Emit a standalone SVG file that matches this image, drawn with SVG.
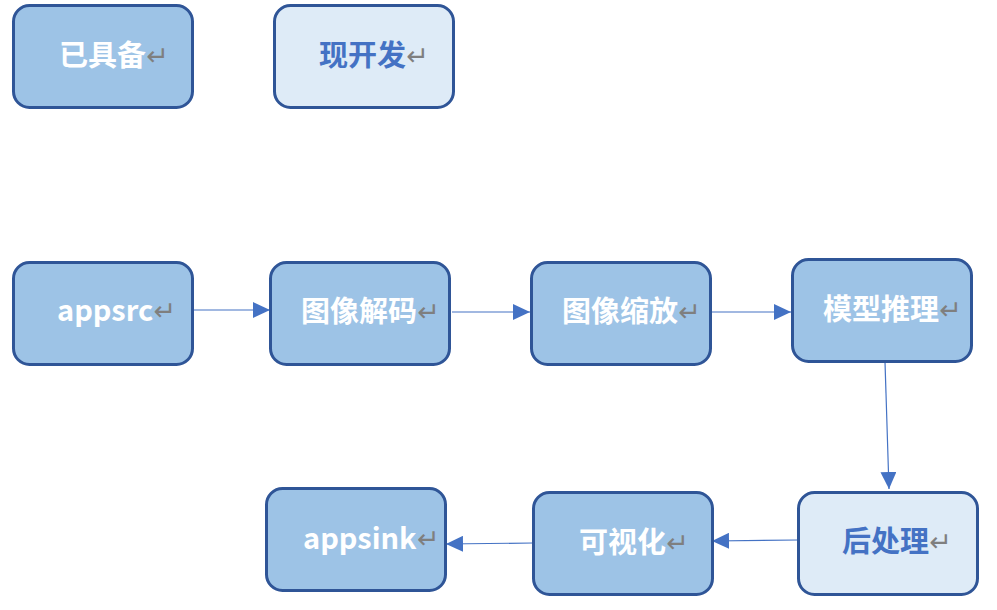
<svg xmlns="http://www.w3.org/2000/svg" width="997" height="610" viewBox="0 0 997 610">
<style>
.box{stroke:#2F5597;stroke-width:3}
.dark{fill:#9DC3E6}
.light{fill:#DEEBF7}
.t{font-family:"Noto Sans CJK SC","Liberation Sans",sans-serif;font-weight:bold;font-size:29px}
.w{fill:#FFFFFF}
.b{fill:#4472C4}
.rm{fill:#7F7F7F;font-family:"DejaVu Sans",sans-serif;font-weight:normal;font-size:27px}
.c{stroke:#4472C4;stroke-width:1.2;fill:none}
</style>
<defs>
<marker id="ah" viewBox="0 0 17 16" refX="17" refY="8" markerWidth="17" markerHeight="16" markerUnits="userSpaceOnUse" orient="auto">
<path d="M0,0 L17,8 L0,16 Z" fill="#4472C4"/>
</marker>
</defs>
<rect width="997" height="610" fill="#FFFFFF"/>
<g id="connectors">
<line class="c" x1="193" y1="310" x2="270" y2="310" marker-end="url(#ah)"/>
<line class="c" x1="452" y1="312" x2="530" y2="312" marker-end="url(#ah)"/>
<line class="c" x1="712" y1="312" x2="791" y2="312" marker-end="url(#ah)"/>
<line class="c" x1="885" y1="362" x2="889" y2="489" marker-end="url(#ah)"/>
<line class="c" x1="798" y1="540" x2="712" y2="541" marker-end="url(#ah)"/>
<line class="c" x1="533" y1="543" x2="446" y2="544" marker-end="url(#ah)"/>
</g>
<g id="n_ready">
<rect class="box dark" x="13.5" y="5.5" width="179" height="102" rx="16"/>
<text class="t w" x="59" y="66">已具备<tspan class="rm" dy="-1">↵</tspan></text>
</g>
<g id="n_dev">
<rect class="box light" x="274.5" y="5.5" width="179" height="102" rx="16"/>
<text class="t b" x="319" y="66">现开发<tspan class="rm" dy="-1">↵</tspan></text>
</g>
<g id="n_appsrc">
<rect class="box dark" x="13.5" y="262.5" width="179" height="102" rx="16"/>
<text class="t w" x="57" y="321">appsrc<tspan class="rm" dy="-1">↵</tspan></text>
</g>
<g id="n_decode">
<rect class="box dark" x="270.5" y="262.5" width="179" height="102" rx="16"/>
<text class="t w" x="301" y="322">图像解码<tspan class="rm" dy="-1">↵</tspan></text>
</g>
<g id="n_scale">
<rect class="box dark" x="531.5" y="262.5" width="179" height="102" rx="16"/>
<text class="t w" x="562" y="322">图像缩放<tspan class="rm" dy="-1">↵</tspan></text>
</g>
<g id="n_infer">
<rect class="box dark" x="792.5" y="259.5" width="179" height="102" rx="16"/>
<text class="t w" x="823" y="320">模型推理<tspan class="rm" dy="-1">↵</tspan></text>
</g>
<g id="n_post">
<rect class="box light" x="798.5" y="492.5" width="179" height="102" rx="16"/>
<text class="t b" x="842" y="552">后处理<tspan class="rm" dy="-1">↵</tspan></text>
</g>
<g id="n_vis">
<rect class="box dark" x="533.5" y="492.5" width="179" height="102" rx="16"/>
<text class="t w" x="579" y="553">可视化<tspan class="rm" dy="-1">↵</tspan></text>
</g>
<g id="n_appsink">
<rect class="box dark" x="266.5" y="488.5" width="179" height="102" rx="16"/>
<text class="t w" x="303" y="549">appsink<tspan class="rm" dy="-1">↵</tspan></text>
</g>
</svg>
